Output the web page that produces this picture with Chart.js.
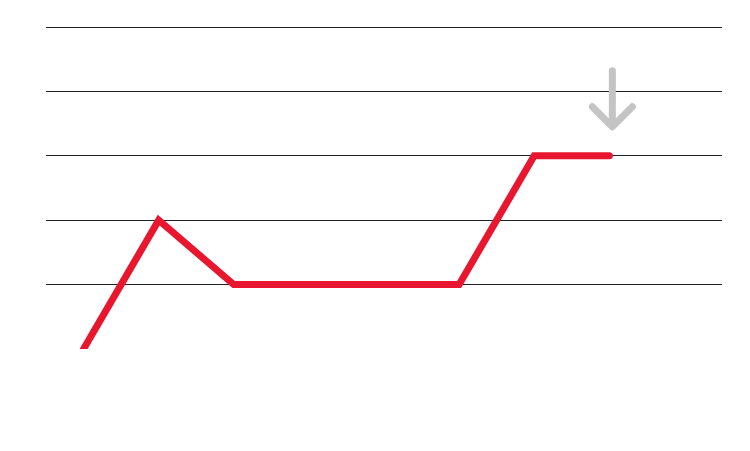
<!DOCTYPE html>
<html>
<head>
<meta charset="utf-8">
<script src="https://cdn.jsdelivr.net/npm/chart.js@4"></script>
<style>
  html, body { margin: 0; padding: 0; background: #fff; }
  #wrap { width: 750px; height: 451px; }
</style>
</head>
<body>
<div id="wrap"><canvas id="c"></canvas></div>
<script>
const labels = ['1', '2', '3', '4', '5', '6', '7', '8', '9'];
const values = [0, 2, 1, 1, 1, 1, 3, 3, null];
const yTicks = [0, 1, 2, 3, 4, 5];

// grey arrow pointing down at the last data point
const arrowPlugin = {
    id: 'arrow',
    afterDatasetsDraw(chart) {
        const meta = chart.getDatasetMeta(0);
        const pt = meta.data[7];
        const ctx = chart.ctx;
        const x = pt.x + 3, tip = pt.y - 29;
        ctx.save();
        ctx.strokeStyle = '#c4c4c4';
        ctx.lineWidth = 7;
        ctx.lineCap = 'round';
        ctx.lineJoin = 'round';
        ctx.beginPath();
        ctx.moveTo(x, tip - 56);
        ctx.lineTo(x, tip - 2);
        ctx.moveTo(x - 20, tip - 20);
        ctx.lineTo(x, tip);
        ctx.lineTo(x + 20, tip - 20);
        ctx.stroke();
        ctx.restore();
    }
};

new Chart(document.getElementById('c').getContext('2d'), {
    type: 'line',
    data: {
        labels: labels,
        datasets: [{
            data: values,
            borderColor: '#e8172f',
            borderWidth: 7,
            pointRadius: 0,
            tension: 0,
            borderCapStyle: 'round',
            borderJoinStyle: 'miter'
        }]
    },
    options: {
        responsive: true,
        maintainAspectRatio: false,
        animation: false,
        layout: { padding: { left: 46, right: 28, top: 27, bottom: 102 } },
        plugins: { legend: { display: false }, tooltip: { enabled: false } },
        scales: {
            x: {
                offset: true,
                display: false
            },
            y: {
                min: 0,
                max: 5,
                afterBuildTicks: (s) => { s.ticks = yTicks.map(v => ({ value: v })); },
                border: { display: false },
                ticks: { display: false },
                grid: {
                    color: (c) => c.tick && c.tick.value === 0 ? 'rgba(0,0,0,0)' : '#222',
                    lineWidth: 1,
                    drawTicks: false
                }
            }
        }
    },
    plugins: [arrowPlugin]
});
</script>
</body>
</html>
